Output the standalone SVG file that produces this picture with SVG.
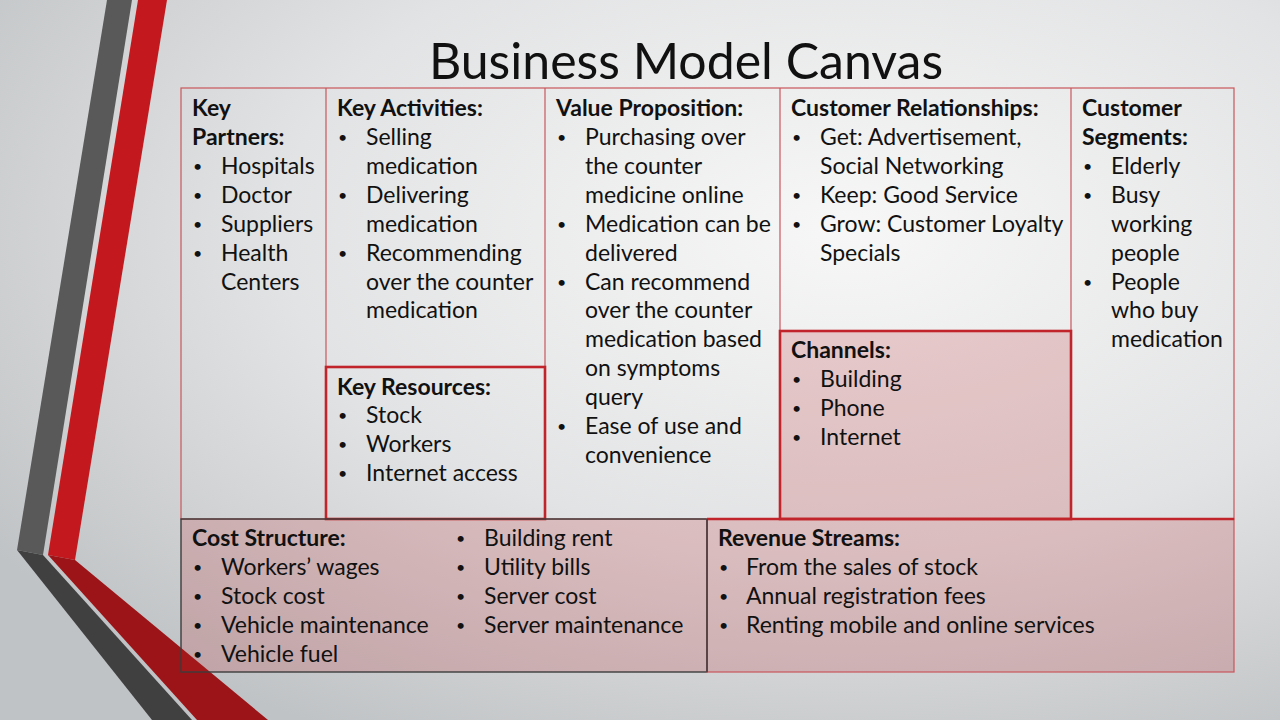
<svg xmlns="http://www.w3.org/2000/svg" width="1280" height="720" viewBox="0 0 1280 720">
  <defs>
    <radialGradient id="bg" cx="0.66" cy="0.32" r="0.8">
      <stop offset="0" stop-color="#f7f7f7"/>
      <stop offset="0.55" stop-color="#e2e3e4"/>
      <stop offset="1" stop-color="#c0c3c5"/>
    </radialGradient>
    <style>
      .t { font-family: Lato, "Open Sans", sans-serif; font-size: 23px; fill: #111; }
      .h { font-weight: bold; }
      .b { font-family: Lato, "Open Sans", sans-serif; font-size: 16px; fill: #111; }
      .title { font-family: Lato, "Open Sans", sans-serif; font-size: 50px; font-weight: 400; fill: #111; }
      .thin { fill: none; stroke: #c9565b; stroke-width: 1.2; }
      .thick { fill: none; stroke: #c1252b; stroke-width: 2.6; }
      .pink { fill: #c0282d; fill-opacity: 0.2; }
    </style>
  </defs>

  <rect x="0" y="0" width="1280" height="720" fill="url(#bg)"/>

  <g id="stripes">
    <polygon points="107,0 132,0 43,555 17,550" fill="#595959"/>
    <polygon points="138,0 167,0 75,560 48,555" fill="#c3191e"/>
    <polygon points="17,550 43,555 192,720 152,720" fill="#404040"/>
    <polygon points="48,555 75,560 268,720 197,720" fill="#9c1417"/>
  </g>

  <text class="title" x="686" y="79" text-anchor="middle">Business Model Canvas</text>

  <g id="grid">
    <rect class="thin" x="181" y="88" width="1053" height="431"/>
    <line class="thin" x1="326" y1="88" x2="326" y2="519"/>
    <line class="thin" x1="545" y1="88" x2="545" y2="519"/>
    <line class="thin" x1="780" y1="88" x2="780" y2="519"/>
    <line class="thin" x1="1071" y1="88" x2="1071" y2="519"/>
  </g>

  <g id="key-partners">
    <text class="t h" x="192" y="116">Key</text>
    <text class="t h" x="192" y="145">Partners:</text>
    <text class="b" x="193" y="172">•</text><text class="t" x="221" y="174">Hospitals</text>
    <text class="b" x="193" y="201">•</text><text class="t" x="221" y="203">Doctor</text>
    <text class="b" x="193" y="230">•</text><text class="t" x="221" y="232">Suppliers</text>
    <text class="b" x="193" y="259">•</text><text class="t" x="221" y="261">Health</text>
    <text class="t" x="221" y="290">Centers</text>
  </g>

  <g id="key-activities">
    <text class="t h" x="337" y="116">Key Activities:</text>
    <text class="b" x="338" y="143">•</text><text class="t" x="366" y="145">Selling</text>
    <text class="t" x="366" y="174">medication</text>
    <text class="b" x="338" y="201">•</text><text class="t" x="366" y="203">Delivering</text>
    <text class="t" x="366" y="232">medication</text>
    <text class="b" x="338" y="259">•</text><text class="t" x="366" y="261">Recommending</text>
    <text class="t" x="366" y="290">over the counter</text>
    <text class="t" x="366" y="318">medication</text>
  </g>

  <g id="key-resources">
    <rect class="thick" x="326" y="367" width="219" height="152"/>
    <text class="t h" x="337" y="395">Key Resources:</text>
    <text class="b" x="338" y="421">•</text><text class="t" x="366" y="423">Stock</text>
    <text class="b" x="338" y="450">•</text><text class="t" x="366" y="452">Workers</text>
    <text class="b" x="338" y="479">•</text><text class="t" x="366" y="481">Internet access</text>
  </g>

  <g id="value-proposition">
    <text class="t h" x="556" y="116">Value Proposition:</text>
    <text class="b" x="557" y="143">•</text><text class="t" x="585" y="145">Purchasing over</text>
    <text class="t" x="585" y="174">the counter</text>
    <text class="t" x="585" y="203">medicine online</text>
    <text class="b" x="557" y="230">•</text><text class="t" x="585" y="232">Medication can be</text>
    <text class="t" x="585" y="261">delivered</text>
    <text class="b" x="557" y="288">•</text><text class="t" x="585" y="290">Can recommend</text>
    <text class="t" x="585" y="318">over the counter</text>
    <text class="t" x="585" y="347">medication based</text>
    <text class="t" x="585" y="376">on symptoms</text>
    <text class="t" x="585" y="405">query</text>
    <text class="b" x="557" y="432">•</text><text class="t" x="585" y="434">Ease of use and</text>
    <text class="t" x="585" y="463">convenience</text>
  </g>

  <g id="customer-relationships">
    <text class="t h" x="791" y="116">Customer Relationships:</text>
    <text class="b" x="792" y="143">•</text><text class="t" x="820" y="145">Get: Advertisement,</text>
    <text class="t" x="820" y="174">Social Networking</text>
    <text class="b" x="792" y="201">•</text><text class="t" x="820" y="203">Keep: Good Service</text>
    <text class="b" x="792" y="230">•</text><text class="t" x="820" y="232">Grow: Customer Loyalty</text>
    <text class="t" x="820" y="261">Specials</text>
  </g>

  <g id="channels">
    <rect class="pink" x="780" y="331" width="291" height="188"/>
    <rect class="thick" x="780" y="331" width="291" height="188"/>
    <text class="t h" x="791" y="358">Channels:</text>
    <text class="b" x="792" y="385">•</text><text class="t" x="820" y="387">Building</text>
    <text class="b" x="792" y="414">•</text><text class="t" x="820" y="416">Phone</text>
    <text class="b" x="792" y="443">•</text><text class="t" x="820" y="445">Internet</text>
  </g>

  <g id="customer-segments">
    <text class="t h" x="1082" y="116">Customer</text>
    <text class="t h" x="1082" y="145">Segments:</text>
    <text class="b" x="1083" y="172">•</text><text class="t" x="1111" y="174">Elderly</text>
    <text class="b" x="1083" y="201">•</text><text class="t" x="1111" y="203">Busy</text>
    <text class="t" x="1111" y="232">working</text>
    <text class="t" x="1111" y="261">people</text>
    <text class="b" x="1083" y="288">•</text><text class="t" x="1111" y="290">People</text>
    <text class="t" x="1111" y="318">who buy</text>
    <text class="t" x="1111" y="347">medication</text>
  </g>

  <g id="cost-structure">
    <rect class="pink" x="181" y="519" width="526" height="153" stroke="#3c3c3c" stroke-width="1.4"/>
    <text class="t h" x="192" y="546">Cost Structure:</text>
    <text class="b" x="193" y="573">•</text><text class="t" x="221" y="575">Workers’ wages</text>
    <text class="b" x="193" y="602">•</text><text class="t" x="221" y="604">Stock cost</text>
    <text class="b" x="193" y="631">•</text><text class="t" x="221" y="633">Vehicle maintenance</text>
    <text class="b" x="193" y="660">•</text><text class="t" x="221" y="662">Vehicle fuel</text>
    <text class="b" x="456" y="544">•</text><text class="t" x="484" y="546">Building rent</text>
    <text class="b" x="456" y="573">•</text><text class="t" x="484" y="575">Utility bills</text>
    <text class="b" x="456" y="602">•</text><text class="t" x="484" y="604">Server cost</text>
    <text class="b" x="456" y="631">•</text><text class="t" x="484" y="633">Server maintenance</text>
  </g>

  <g id="revenue-streams">
    <rect class="pink" x="707" y="519" width="527" height="153"/>
    <rect class="thin" x="707" y="519" width="527" height="153"/>
    <line class="thick" x1="707" y1="519" x2="1234" y2="519"/>
    <line x1="707" y1="519" x2="707" y2="672" stroke="#3c3c3c" stroke-width="1.4"/>
    <text class="t h" x="718" y="546">Revenue Streams:</text>
    <text class="b" x="719" y="573">•</text><text class="t" x="746" y="575">From the sales of stock</text>
    <text class="b" x="719" y="602">•</text><text class="t" x="746" y="604">Annual registration fees</text>
    <text class="b" x="719" y="631">•</text><text class="t" x="746" y="633">Renting mobile and online services</text>
  </g>
</svg>
